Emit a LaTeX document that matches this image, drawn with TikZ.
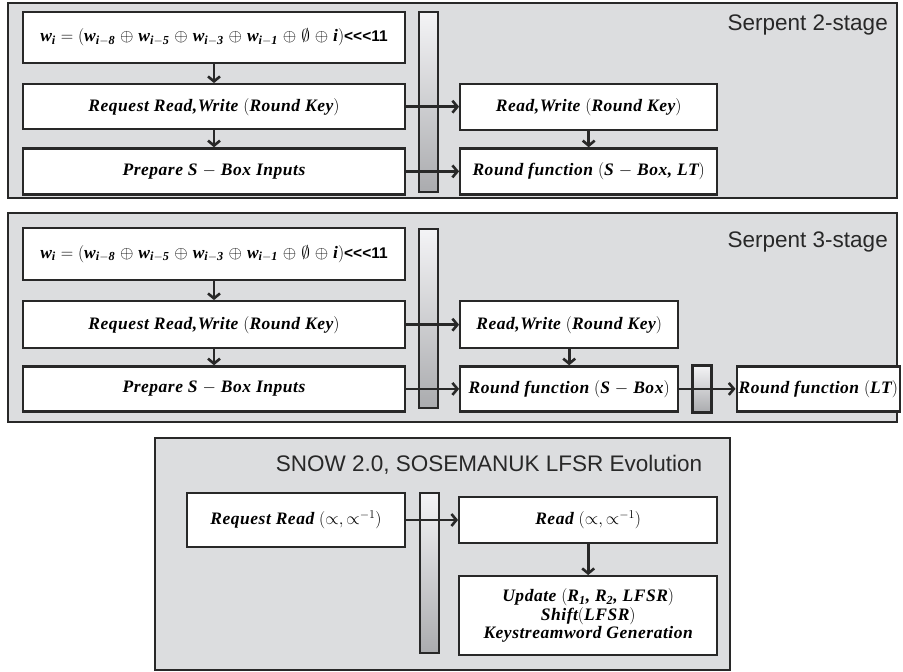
\documentclass[tikz,border=0pt]{standalone}
\usepackage{amsmath,amssymb,bm}
\usepackage{fontspec}
\newfontfamily\titlefont{Liberation Sans}
\newfontfamily\boxfont[LetterSpace=3]{Liberation Serif}
\usetikzlibrary{positioning,calc,arrows.meta}
\definecolor{panelgray}{RGB}{220,221,223}
\definecolor{edgegray}{RGB}{40,40,40}
\definecolor{regtop}{RGB}{244,244,246}
\definecolor{regbot}{RGB}{170,171,174}
\newcommand{\mi}{$-$}
\newcommand{\keyupdate}{w\textsubscript{i} $=$ $($w\textsubscript{i\mi8} $\oplus$ w\textsubscript{i\mi5} $\oplus$ w\textsubscript{i\mi3} $\oplus$ w\textsubscript{i\mi1} $\oplus$ $\emptyset$ $\oplus$ i$)${\titlefont\upshape\bfseries\fontsize{15.5}{18}\selectfont <{}<{}<11}}
\newcommand{\reqrw}{Request Read,Write $($Round Key$)$}
\newcommand{\rw}{Read,Write $($Round Key$)$}
\newcommand{\prepsbox}{Prepare S $-$ Box Inputs}

\begin{document}
\begin{tikzpicture}[x=1pt, y=-1pt,
        panel/.style={draw=edgegray, line width=1.8pt, fill=panelgray},
        block/.style={draw=edgegray, line width=2.2pt, fill=white, minimum height=46pt, inner sep=2pt, align=center,
            font=\boxfont\bfseries\itshape\fontsize{17.5}{18.5}\selectfont},
        reg/.style={draw=edgegray, line width=2.2pt, top color=regtop, bottom color=regbot, minimum width=19pt, inner sep=0pt},
        title/.style={font=\titlefont\fontsize{22.5}{27}\selectfont, text=edgegray, inner sep=0pt},
        flow/.style={draw=edgegray, line width=2.6pt, -{Straight Barb[length=5pt,width=12pt]}},
        node distance=18pt and 53pt]
    \useasboundingbox (0,0) rectangle (903,672);

    \draw[panel] (8,3) rectangle (897,198);
    \node[title, anchor=east] (t1) at (888,25) {Serpent 2-stage};
    \node[block, minimum width=382pt, minimum height=51pt] (eq1) at (214,37.5) {\keyupdate};
    \node[block, minimum width=382pt, minimum height=45pt, below=19pt of eq1] (req1) {\reqrw};
    \node[block, minimum width=382pt, below=17pt of req1] (prep1) {\prepsbox};
    \node[reg, minimum height=180pt] (reg1) at (428.5,102) {};
    \node[block, minimum width=257pt, right=53pt of req1] (rw1) {\rw};
    \node[block, minimum width=257pt, right=53pt of prep1] (rf1) {Round function $($S $-$ Box, LT$)$};
    \draw[flow] (eq1) -- (req1);
    \draw[flow] (req1) -- (prep1);
    \draw[flow] (req1) -- (rw1);
    \draw[flow] (prep1) -- (rf1);
    \draw[flow] (rw1) -- (rf1);

    \draw[panel] (8,213) rectangle (897,422);
    \node[title, anchor=east] (t2) at (888,242) {Serpent 3-stage};
    \node[block, minimum width=382pt, minimum height=52pt] (eq2) at (214,254) {\keyupdate};
    \node[block, minimum width=382pt, minimum height=47pt, below=19pt of eq2] (req2) {\reqrw};
    \node[block, minimum width=382pt, minimum height=45pt, below=16pt of req2] (prep2) {\prepsbox};
    \node[reg, minimum height=179pt] (reg2) at (428.5,318.5) {};
    \node[block, minimum width=218pt, minimum height=47pt, right=53pt of req2] (rw2) {\rw};
    \node[block, minimum width=218pt, minimum height=45pt, right=53pt of prep2] (rf2) {Round function $($S $-$ Box$)$};
    \node[reg, minimum height=47pt, right=12pt of rf2] (reg3) {};
    \node[block, minimum width=162pt, minimum height=45pt, right=23pt of reg3] (lt2) {Round function $($LT$)$};
    \draw[flow] (eq2) -- (req2);
    \draw[flow] (req2) -- (prep2);
    \draw[flow] (req2) -- (rw2);
    \draw[flow] (prep2) -- (rf2);
    \draw[flow] (rw2) -- (rf2);
    \draw[flow] (rf2) -- (lt2);

    \draw[panel] (155,438) rectangle (730,670);
    \node[title] (t3) at (489,465) {SNOW 2.0, SOSEMANUK LFSR Evolution};
    \node[block, minimum width=218pt, minimum height=54pt] (rr3) at (296,520) {Request Read $(\propto, \propto^{-1})$};
    \node[reg, minimum height=160pt] (reg4) at (429.5,573) {};
    \node[block, minimum width=258pt, right=52pt of rr3] (rd3) {Read $(\propto, \propto^{-1})$};
    \node[block, minimum width=258pt, minimum height=79pt, below=31pt of rd3] (up3)
        {Update $($R\textsubscript{1}, R\textsubscript{2}, LFSR$)$\\Shift$($LFSR$)$\\Keystreamword Generation};
    \draw[flow] (rr3) -- (rd3);
    \draw[flow] (rd3) -- (up3);
\end{tikzpicture}
\end{document}
